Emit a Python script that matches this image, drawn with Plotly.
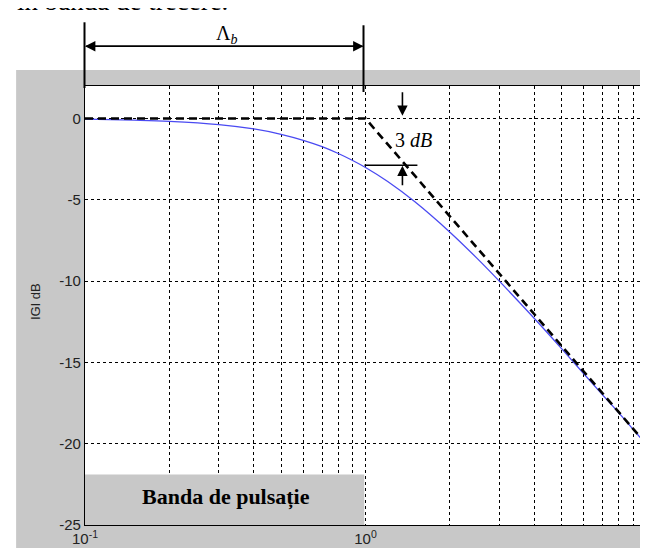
import math
import plotly.graph_objects as go

# ---- data ----
freq = [0.1, 0.15, 0.2, 0.3, 0.4, 0.5, 0.6, 0.7, 0.8, 0.9, 1.0, 1.2, 1.5,
        2.0, 2.5, 3.0, 4.0, 5.0, 6.0, 7.0, 8.0, 10.0]
gain_db = [-0.04, -0.1, -0.17, -0.37, -0.64, -0.97, -1.34, -1.73, -2.15, -2.58,
           -3.01, -3.87, -5.12, -6.99, -8.6, -10.0, -12.3, -14.15, -15.7, -17.0,
           -18.1, -20.04]
asym_freq = [0.1, 1.0, 10.0]
asym_db = [0.0, 0.0, -20.0]

x_tickvals = [0.1, 0.2, 0.3, 0.4, 0.5, 0.6, 0.7, 0.8, 0.9,
              1, 2, 3, 4, 5, 6, 7, 8, 9, 10]
x_ticktext = ["10<sup>-1</sup>"] + [""] * 8 + ["10<sup>0</sup>"] + [""] * 8 + ["10<sup>1</sup>"]
y_tickvals = [0, -5, -10, -15, -20, -25]
y_ticktext = ["0", "-5", "-10", "-15", "-20", "-25"]

band_lo, band_hi = 0.1, 0.99
band_db_lo, band_db_hi = -25, -21.9

# ---- layout geometry ----
W, H = 648, 548
L, R, T, B = 77, 9, 78, 29
PW, PH = W - L - R, H - T - B
X_LOG_RANGE = [-1, 1]


def px(x):
    return (x - L) / PW


def py(y):
    return (H - B - y) / PH


def xdom(v):
    return (math.log10(v) - X_LOG_RANGE[0]) / (X_LOG_RANGE[1] - X_LOG_RANGE[0])


SERIF = "Liberation Serif, Times New Roman, serif"
SANS = "Liberation Sans, Arial, sans-serif"

fig = go.Figure()
fig.add_trace(go.Scatter(x=freq, y=gain_db, mode="lines", line_shape="spline",
                         line=dict(color="#4a4af2", width=1.3), showlegend=False,
                         cliponaxis=False))
fig.add_trace(go.Scatter(x=asym_freq, y=asym_db, mode="lines",
                         line=dict(color="black", width=2.6, dash="8px,5px"),
                         showlegend=False, cliponaxis=False))

shapes = [
    # white strips outside the gray figure area
    dict(type="rect", xref="paper", yref="paper", x0=px(-20), x1=px(W + 20),
         y0=py(62), y1=py(-20), fillcolor="white", line=dict(width=0), layer="below"),
    dict(type="rect", xref="paper", yref="paper", x0=px(-20), x1=px(8),
         y0=py(H + 20), y1=py(-20), fillcolor="white", line=dict(width=0), layer="below"),
    # band box
    dict(type="rect", xref="x domain", yref="y", x0=xdom(band_lo), x1=xdom(band_hi),
         y0=band_db_lo, y1=band_db_hi, fillcolor="#c8c8c8", line=dict(width=0), layer="above"),
    # dimension lines
    dict(type="line", xref="paper", yref="paper", x0=px(76.5), x1=px(76.5), y0=py(14), y1=py(80),
         line=dict(color="black", width=2)),
    dict(type="line", xref="paper", yref="paper", x0=px(356), x1=px(356), y0=py(17), y1=py(84),
         line=dict(color="black", width=2)),
    dict(type="line", xref="paper", yref="paper", x0=px(357), x1=px(410), y0=py(157.5), y1=py(157.5),
         line=dict(color="black", width=1.5)),
]

arrow = dict(xref="paper", yref="paper", text="", showarrow=True, arrowhead=2,
             arrowsize=1.3, arrowwidth=1.6, arrowcolor="black")
label = dict(xref="paper", yref="paper", showarrow=False, xanchor="center", yanchor="middle")

annotations = [
    dict(arrow, x=px(77), y=py(38), ax=279, ay=0),
    dict(arrow, x=px(356), y=py(38), ax=-279, ay=0),
    dict(arrow, x=px(395), y=py(108), ax=0, ay=-25),
    dict(arrow, x=px(395), y=py(158), ax=0, ay=21),
    dict(label, x=px(219), y=py(26), text="Λ<sub><i>b</i></sub>",
         font=dict(family=SERIF, size=20, color="black")),
    dict(label, x=px(406), y=py(132), text="3 <i>dB</i>",
         font=dict(family=SERIF, size=20, color="black")),
    dict(xref="paper", yref="paper", x=px(6), y=py(10), xanchor="left", yanchor="bottom",
         text="în banda de trecere.", showarrow=False,
         font=dict(family=SERIF, size=27, color="black")),
    dict(label, x=px(218), y=py(491), text="<b>Banda de pulsație</b>",
         font=dict(family=SERIF, size=22, color="black")),
    dict(label, x=px(27), y=py(295), text="IGI dB", textangle=-90,
         font=dict(family=SANS, size=13, color="#222")),
]

fig.update_layout(
    width=W, height=H,
    margin=dict(l=L, r=R, t=T, b=B, pad=0),
    paper_bgcolor="#c8c8c8", plot_bgcolor="white",
    shapes=shapes, annotations=annotations,
    font=dict(family=SANS, size=15, color="#222"),
)
fig.update_xaxes(type="log", range=X_LOG_RANGE, tickvals=x_tickvals, ticktext=x_ticktext,
                 showgrid=True, gridcolor="black", griddash="3px,3px", gridwidth=1,
                 showline=True, linecolor="black", linewidth=1.2, mirror=True,
                 ticks="", tickfont=dict(family=SANS, size=15, color="#222"), zeroline=False)
fig.update_yaxes(range=[-25, 2], tickvals=y_tickvals, ticktext=y_ticktext,
                 showgrid=True, gridcolor="black", griddash="3px,3px", gridwidth=1,
                 showline=True, linecolor="black", linewidth=1.2, mirror=True,
                 ticks="", ticklen=0, tickfont=dict(family=SANS, size=15, color="#222"),
                 zeroline=False)

fig.write_html("out.html")
